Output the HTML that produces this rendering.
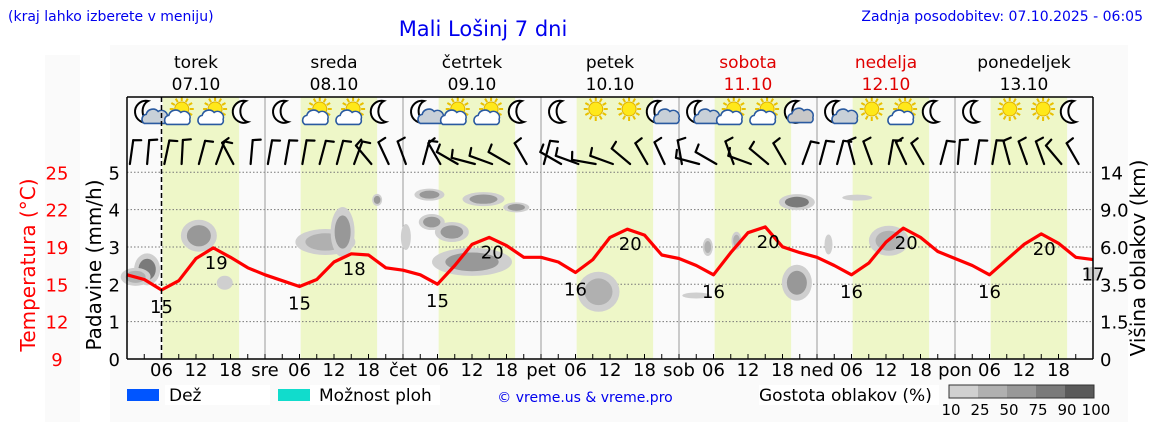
<!DOCTYPE html>
<html><head><meta charset="utf-8"><style>
html,body{margin:0;padding:0;background:#fff;}
svg{display:block;font-family:"DejaVu Sans","Liberation Sans",sans-serif;}
</style></head><body>
<svg id="chart" width="1152" height="443" viewBox="0 0 1152 443" xmlns="http://www.w3.org/2000/svg">
<rect x="45" y="55" width="35" height="367" fill="#fafafa"/>
<rect x="110" y="45" width="1018" height="377" fill="#fafafa"/>
<text x="8" y="21" font-size="14" fill="#0000ee">(kraj lahko izberete v meniju)</text>
<text x="483" y="36" font-size="21" fill="#0000ee" text-anchor="middle">Mali Lošinj 7 dni</text>
<text x="1143" y="21" font-size="14" fill="#0000ee" text-anchor="end">Zadnja posodobitev: 07.10.2025 - 06:05</text>
<g id="bands"></g><g id="grid"></g><g id="clouds"></g><g id="temp"></g><g id="icons"></g><g id="wind"></g><g id="axes"></g>
<text transform="translate(35,265) rotate(-90)" font-size="20" fill="#ff0000" text-anchor="middle">Temperatura (°C)</text>
<text transform="translate(101,265) rotate(-90)" font-size="20" fill="#000" text-anchor="middle">Padavine (mm/h)</text>
<text transform="translate(1145,258) rotate(-90)" font-size="20" fill="#000" text-anchor="middle">Višina oblakov (km)</text>
<g>
<rect x="127" y="389" width="32" height="12" fill="#0055ff"/>
<rect x="165" y="385" width="105" height="20" fill="#fff"/>
<text x="169" y="401" font-size="17">Dež</text>
<rect x="278" y="389" width="32" height="12" fill="#11dccc"/>
<rect x="310" y="385" width="130" height="20" fill="#fff"/>
<text x="319" y="401" font-size="17">Možnost ploh</text>
<text x="585" y="402" font-size="14" fill="#0000ee" text-anchor="middle">© vreme.us &amp; vreme.pro</text>
<rect x="759" y="385" width="180" height="20" fill="#fff"/>
<text x="759" y="401" font-size="17">Gostota oblakov (%)</text>
<g id="dens"></g>
</g>
</svg>
<script>
const NS='http://www.w3.org/2000/svg';
const X0=127,X1=1093,Y0=359,PXH=(X1-X0)/168;
const dayNames=['torek','sreda','četrtek','petek','sobota','nedelja','ponedeljek'];
const dayDates=['07.10','08.10','09.10','10.10','11.10','12.10','13.10'];
const dayAbbr=['','sre','čet','pet','sob','ned','pon'];
const dayRed=[0,0,0,0,1,1,0];
const precipTicks=[0,1,2,3,4,5];
const tempTicks=['9','12','15','19','22','25'];
const heightTicks=['0','1.5','3.5','6.0','9.0','14'];
const heightKm=[0,1.5,3.5,6,9,14];
const temps=[16.2,15.8,14.9,15.7,17.6,18.5,17.7,16.8,16.2,15.7,15.2,15.8,17.3,18.0,17.9,16.8,16.6,16.2,15.4,17.0,18.8,19.4,18.7,17.7,17.7,17.3,16.4,17.5,19.4,20.1,19.6,17.9,17.6,17.0,16.2,18.1,19.8,20.3,18.6,18.1,17.7,17.0,16.2,17.2,19.0,20.2,19.4,18.2,17.6,17.0,16.2,17.5,18.8,19.7,18.9,17.7,17.5];
const labelHours=[6,15,30,39,54,63,78,87,102,111,126,135,150,159,168];
const labelValues=['15','19','15','18','15','20','16','20','16','20','16','20','16','20','17'];
const iconTypes=['mc','sc','sc','m','m','sc','sc','m','mc','sc','sc','m','m','s','s','mc','mc','sc','sc','mC','mc','s','sc','m','m','s','s','m'];
const windAngles=[8,5,12,3,15,20,-28,5,10,10,10,15,15,20,-40,-25,-20,15,-30,-60,-75,-70,-60,-30,15,-60,-70,-80,-70,-50,-30,-25,-10,-75,-60,-20,-70,-50,-30,20,15,15,-15,-20,10,-25,-30,15,5,10,10,-15,-20,-20,-40,-30];
const cloudHours=[3.5,1.5,12.5,17,34.5,37.5,43.5,52.6,62,67.7,53,56.5,48.5,60,82,99,101,106,116.5,116.5,127,122,132.5,168];
const cloudKm=[4.5,4.0,6.9,3.6,6.4,7.2,10.3,11.0,10.4,9.3,8.0,7.2,6.8,5.0,3.1,2.9,6.0,6.5,10.0,3.6,10.6,6.2,6.5,4.2];
const cloudDens=[65,30,40,20,30,55,50,50,55,40,50,55,20,40,35,20,30,30,75,40,15,20,35,20];
const cloudW=[26,30,36,16,60,24,10,30,42,26,26,34,10,80,42,28,10,10,36,30,30,8,40,16];
const cloudH=[32,18,32,14,26,50,12,12,14,10,16,20,26,28,40,6,18,18,16,36,6,20,30,14];
const densLevels=['10','25','50','75','90','100'];
const densColors=['#d0d0d0','#b0b0b0','#989898','#7a7a7a','#5a5a5a'];
const xH=h=>X0+h*PXH;
const yP=p=>Y0-p*37.35;
const yT=t=>Y0-(t-9)*11.69;
const yK=k=>{for(let i=1;i<heightKm.length;i++){if(k<=heightKm[i]){const f=(k-heightKm[i-1])/(heightKm[i]-heightKm[i-1]);return yP(i-1+f);}}return yP(5);};
function mk(t,a,p){const e=document.createElementNS(NS,t);for(const k in a)e.setAttribute(k,a[k]);(p||document.getElementById('chart')).appendChild(e);return e;}
const G=id=>document.getElementById(id);
for(let d=0;d<7;d++){const b=mk('rect',{x:xH(d*24+6.2),y:97,width:(19.5-6.2)*PXH,height:Y0-97,fill:'#eef7c8'},G('bands'));


const n=mk('text',{x:xH(d*24+12),y:68,'font-size':17,'text-anchor':'middle',fill:dayRed[d]?'#e00000':'#000'});n.textContent=dayNames[d];


const dt=mk('text',{x:xH(d*24+12),y:90,'font-size':17,'text-anchor':'middle',fill:dayRed[d]?'#e00000':'#000'});dt.textContent=dayDates[d];

}
precipTicks.forEach((p,i)=>{if(p>0){const l=mk('line',{x1:X0,x2:X1,y1:yP(p),y2:yP(p),stroke:'#777','stroke-width':1,'stroke-dasharray':'1.5,2'},G('grid'));

}
const t=mk('text',{x:120,y:yP(p)+7,'font-size':18,'text-anchor':'end'},G('axes'));t.textContent=p;


const tt=mk('text',{x:57,y:yP(p)+7,'font-size':18,'text-anchor':'middle',fill:'#ff0000'},G('axes'));tt.textContent=tempTicks[i];


const th=mk('text',{x:1100,y:yP(p)+7,'font-size':18},G('axes'));th.textContent=heightTicks[i];

});
for(let d=1;d<7;d++){const l=mk('line',{x1:xH(d*24),x2:xH(d*24),y1:97,y2:Y0,stroke:'#999','stroke-width':1},G('grid'));

}
cloudHours.forEach((h,i)=>{const c=densColors[Math.min(4,Math.floor(cloudDens[i]/20))];
const e=mk('ellipse',{cx:xH(h),cy:yK(cloudKm[i]),rx:cloudW[i]/2,ry:cloudH[i]/2,fill:'#cfcfcf'},G('clouds'));


if(cloudDens[i]>25){const e2=mk('ellipse',{cx:xH(h),cy:yK(cloudKm[i]),rx:cloudW[i]/3,ry:cloudH[i]/3,fill:c},G('clouds'));

}});
const pts=temps.map((t,i)=>xH(i*3).toFixed(1)+','+yT(t).toFixed(1)).join(' ');
const pl=mk('polyline',{points:pts,fill:'none',stroke:'#ff0000','stroke-width':3.2,'stroke-linejoin':'round'},G('temp'));


labelHours.forEach((h,i)=>{const t=temps[Math.round(h/3)];const lt=mk('text',{x:xH(h)+(i%2===1?3:0),y:yT(t)+(i%2===0&&i<14?23:21),'font-size':18,'text-anchor':'middle'},G('temp'));lt.textContent=labelValues[i];

});
const iconHours=[3.5,9,14.8,20.5];
function moon(g,x,y){mk('path',{d:`M${x+3},${y-11} A11,11 0 1,0 ${x+5},${y+10} A9,11 0 0,1 ${x+3},${y-11}Z`,fill:'#fff',stroke:'#000','stroke-width':2},g);}
function sun(g,x,y){for(let a=0;a<360;a+=30){const r=a*Math.PI/180;mk('line',{x1:x+Math.cos(r)*8,y1:y+Math.sin(r)*8,x2:x+Math.cos(r)*12,y2:y+Math.sin(r)*12,stroke:'#e8c000','stroke-width':2},g);}mk('circle',{cx:x,cy:y,r:7,fill:'#ffe81a',stroke:'#e0b000','stroke-width':1},g);}
function cloud(g,x,y,s,f){mk('path',{d:`M${x-10*s},${y+6*s} a5,5 0 0,1 2,-9 a7,7 0 0,1 12,-3 a6,6 0 0,1 9,7 a4,4 0 0,1 -2,5 Z`,fill:f,stroke:'#2a5aa0','stroke-width':1.6},g);}
iconTypes.forEach((t,i)=>{const h=Math.floor(i/4)*24+iconHours[i%4];const x=xH(h),y=112;
const g=mk('g',{},G('icons'));


if(t[0]==='m')moon(g,x-2,y);else sun(g,x+3,y-3);
if(t==='mc')cloud(g,x+6,y+6,0.9,'#c8d0d8');if(t==='mC')cloud(g,x+4,y+4,1.1,'#c8c8c8');if(t==='sc')cloud(g,x-3,y+7,0.9,'#fff');});
windAngles.forEach((a,i)=>{const x=xH(i*3+0.5),y=164,r=a*Math.PI/180;const tx=x+Math.sin(r)*24,ty=y-Math.cos(r)*24;
const g=mk('g',{stroke:'#000','stroke-width':2.2,'stroke-linecap':'round'},G('wind'));


mk('line',{x1:x,y1:y,x2:tx,y2:ty},g);
const br=r+Math.PI/2.2;mk('line',{x1:tx,y1:ty,x2:tx+Math.sin(br)*8,y2:ty-Math.cos(br)*8},g);});
const A=G('axes');
[[X0,97,X1,97],[X0,97,X0,Y0],[X1,97,X1,Y0],[X0,Y0,X1,Y0]].forEach(c=>{const l=mk('line',{x1:c[0],y1:c[1],x2:c[2],y2:c[3],stroke:'#000','stroke-width':1.5},A);

});
const now=mk('line',{x1:xH(6),x2:xH(6),y1:97,y2:Y0,stroke:'#000','stroke-width':1.5,'stroke-dasharray':'5,3'},A);


for(let h=3;h<168;h+=3){const tk=mk('line',{x1:xH(h),x2:xH(h),y1:Y0,y2:Y0-5,stroke:'#000','stroke-width':1},A);


const hh=h%24;let s=hh===0?dayAbbr[h/24]:(hh%6===0?String(hh).padStart(2,'0'):'');
if(s){const t=mk('text',{x:xH(h),y:376,'font-size':18,'text-anchor':'middle'},A);t.textContent=s;

}}
densColors.forEach((c,i)=>{const r=mk('rect',{x:949+i*29,y:385,width:29,height:13,fill:c},G('dens'));

});
mk('rect',{x:949,y:385,width:145,height:13,fill:'none',stroke:'#333','stroke-width':1},G('dens'));
densLevels.forEach((s,i)=>{const t=mk('text',{x:951+i*29,y:415,'font-size':15,'text-anchor':'middle'},G('dens'));t.textContent=s;

});
</script>
</body></html>
